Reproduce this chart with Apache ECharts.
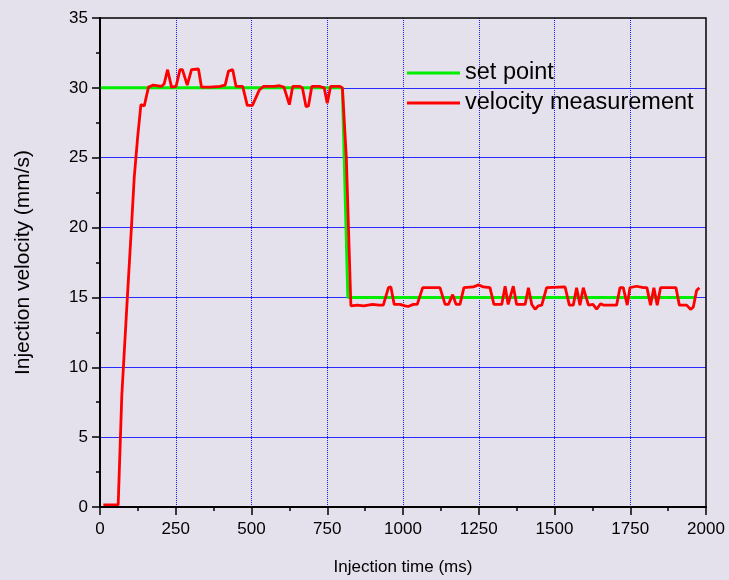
<!DOCTYPE html>
<html>
<head>
<meta charset="utf-8">
<script src="https://cdn.jsdelivr.net/npm/echarts@6/dist/echarts.min.js"></script>
<style>
html,body{margin:0;padding:0;background:#E5E1EC;}
#c{width:729px;height:580px;}
</style>
</head>
<body>
<div id="c"></div>
<script>
const seriesNames = ['set point', 'velocity measurement'];
const xAxisTitle = 'Injection time (ms)';
const yAxisTitle = 'Injection velocity (mm/s)';

const setTime  = [0, 800, 818, 1967];
const setValue = [30, 30, 15, 15];

const velTime = [11,60,72,90,104,113,124,135,146,160,176,203,212,223,236,251,264,272,288,302,325,335,363,396,413,424,438,449,471,486,503,526,539,560,575,592,607,625,636,660,668,680,688,699,726,740,750,761,792,800,813,828,
850,870,900,920,935,952,960,971,990,1007,1017,1034,1047,1065,1122,1139,1150,1164,1175,1188,1201,1232,1249,1265,1287,1300,1326,1337,1347,1364,1375,1403,1414,1425,1436,1447,1458,1474,1535,1549,1562,1573,1584,1595,1612,1627,1634,1639,1652,1661,1705,1716,1727,1740,1749,1771,1793,1805,1817,1828,1839,1850,1901,1912,1936,1949,1958,1969,1978];
const velValue = [0.15,0.15,8,14.9,20.1,23.6,26.4,28.8,28.7,30.05,30.2,30.1,30.3,31.3,30.05,30.1,31.3,31.3,30.2,31.3,31.35,30.05,30.05,30.1,30.2,31.2,31.3,30.1,30.1,28.75,28.75,29.85,30.1,30.1,30.1,30.15,30.05,28.8,30.1,30.1,30.0,28.65,28.7,30.1,30.1,30.0,28.9,30.1,30.1,30.0,25,14.4,
14.45,14.4,14.5,14.45,14.45,15.7,15.75,14.5,14.5,14.4,14.35,14.5,14.5,15.7,15.7,14.5,14.5,15.2,14.5,14.5,15.7,15.75,15.9,15.75,15.7,14.5,14.5,15.8,14.5,15.8,14.5,14.5,15.7,14.5,14.15,14.4,14.45,15.7,15.75,14.45,14.45,15.7,14.45,15.7,14.45,14.5,14.3,14.15,14.55,14.45,14.45,15.7,15.7,14.45,15.7,15.8,15.7,15.7,14.45,15.7,14.45,15.7,15.7,14.45,14.45,14.15,14.3,15.5,15.7];

const zip = (a, b) => a.map((v, i) => [v, b[i]]);
const FONT = '"Liberation Sans", Arial, sans-serif';
const chart = echarts.init(document.getElementById('c'), null, {renderer: 'canvas'});
chart.setOption({
  backgroundColor: '#E5E1EC',
  animation: false,
  textStyle: {fontFamily: FONT},
  grid: {left: 100, right: 23, top: 18, bottom: 73, containLabel: false, outerBoundsMode: 'none',
         show: true, borderColor: '#000', borderWidth: 1.5, backgroundColor: 'transparent', z: 5},
  legend: {
    orient: 'vertical', left: 407, top: 61, padding: 0,
    itemWidth: 53, itemHeight: 3, itemGap: 6,
    icon: 'rect',
    textStyle: {fontSize: 23.5, color: '#000', fontFamily: FONT, lineHeight: 23},
    data: seriesNames.map(n => ({name: n}))
  },
  xAxis: {
    type: 'value', min: 0, max: 2000, interval: 250,
    name: xAxisTitle, nameLocation: 'middle', nameGap: 52,
    nameTextStyle: {fontSize: 17, color: '#000', fontFamily: FONT},
    axisLine: {show: true, onZero: false, lineStyle: {color: '#000', width: 2}},
    axisTick: {show: true, inside: false, length: 8, lineStyle: {color: '#000', width: 1.5}},
    minorTick: {show: true, splitNumber: 2, length: 4, lineStyle: {color: '#000', width: 1.5}},
    axisLabel: {fontSize: 17, color: '#000', margin: 14, fontFamily: FONT, formatter: v => String(v)},
    splitLine: {show: true, showMinLine: false, showMaxLine: false, lineStyle: {color: '#1a1aff', width: 1, type: 'dotted'}}
  },
  yAxis: {
    type: 'value', min: 0, max: 35, interval: 5,
    name: yAxisTitle, nameLocation: 'middle', nameGap: 66, nameRotate: 90,
    nameTextStyle: {fontSize: 21, color: '#000', fontFamily: FONT},
    axisLine: {show: true, onZero: false, lineStyle: {color: '#000', width: 2}},
    axisTick: {show: true, inside: false, length: 8, lineStyle: {color: '#000', width: 1.5}},
    minorTick: {show: true, splitNumber: 2, length: 4, lineStyle: {color: '#000', width: 1.5}},
    axisLabel: {fontSize: 17, color: '#000', margin: 12, fontFamily: FONT, formatter: v => String(v)},
    splitLine: {show: true, showMinLine: false, showMaxLine: false, lineStyle: {color: '#2a2aff', width: 1, type: 'solid'}}
  },
  series: [
    {name: seriesNames[0], type: 'line', data: zip(setTime, setValue), showSymbol: false, symbol: 'none',
     lineStyle: {color: '#00ee00', width: 3}, itemStyle: {color: '#00ee00'}, z: 2},
    {name: seriesNames[1], type: 'line', data: zip(velTime, velValue), showSymbol: false, symbol: 'none',
     lineStyle: {color: '#ff0000', width: 2.8}, itemStyle: {color: '#ff0000'}, z: 3}
  ]
});
</script>
</body>
</html>
